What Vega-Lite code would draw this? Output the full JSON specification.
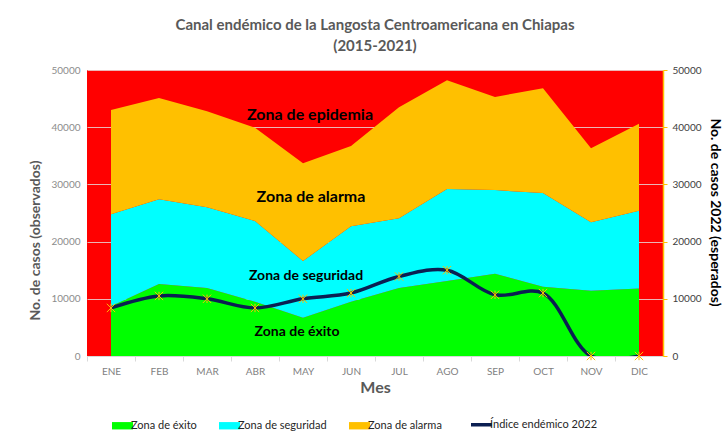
{
  "$schema": "https://vega.github.io/schema/vega-lite/v6.json",
  "width": 576,
  "height": 286,
  "autosize": {"type": "none"},
  "padding": {"left": 87, "top": 70, "right": 65, "bottom": 83},
  "background": "white",
  "config": {
    "font": "Lato",
    "view": {"fill": "#FF0000", "stroke": null},
    "axis": {"labelFont": "Lato", "titleFont": "Lato"}
  },
  "title": {
    "text": ["Canal endémico de la Langosta Centroamericana en Chiapas", "(2015-2021)"],
    "font": "Lato",
    "fontSize": 15,
    "fontWeight": "bold",
    "color": "#595959",
    "anchor": "middle",
    "offset": 11,
    "lineHeight": 21
  },
  "data": {
    "values": [
      {"mes": "ENE", "exito": 8700, "seguridad": 24800, "alarma": 43000, "indice": 8400},
      {"mes": "FEB", "exito": 12600, "seguridad": 27400, "alarma": 45100, "indice": 10500},
      {"mes": "MAR", "exito": 11900, "seguridad": 26000, "alarma": 42800, "indice": 10000},
      {"mes": "ABR", "exito": 9500, "seguridad": 23600, "alarma": 39900, "indice": 8400},
      {"mes": "MAY", "exito": 6700, "seguridad": 16600, "alarma": 33700, "indice": 10000},
      {"mes": "JUN", "exito": 9500, "seguridad": 22700, "alarma": 36700, "indice": 11000},
      {"mes": "JUL", "exito": 11900, "seguridad": 24100, "alarma": 43500, "indice": 13900},
      {"mes": "AGO", "exito": 13100, "seguridad": 29200, "alarma": 48200, "indice": 15000},
      {"mes": "SEP", "exito": 14400, "seguridad": 29000, "alarma": 45300, "indice": 10700},
      {"mes": "OCT", "exito": 12100, "seguridad": 28500, "alarma": 46800, "indice": 11000},
      {"mes": "NOV", "exito": 11400, "seguridad": 23400, "alarma": 36300, "indice": 0},
      {"mes": "DIC", "exito": 11800, "seguridad": 25400, "alarma": 40600, "indice": 0}
    ]
  },
  "encoding": {
    "x": {
      "field": "mes",
      "type": "ordinal",
      "sort": ["ENE", "FEB", "MAR", "ABR", "MAY", "JUN", "JUL", "AGO", "SEP", "OCT", "NOV", "DIC"],
      "scale": {"type": "point", "padding": 0.5},
      "axis": {
        "title": "Mes",
        "titleFontSize": 16,
        "titleFontWeight": "bold",
        "titleColor": "#595959",
        "titlePadding": 3,
        "labelAngle": 0,
        "labelFontSize": 10,
        "labelColor": "#7F7F7F",
        "labelPadding": 5,
        "tickOffset": -24,
        "labelOffset": 24,
        "tickColor": "#D9D9D9",
        "tickSize": 5,
        "domainColor": "#D9D9D9",
        "grid": false
      }
    }
  },
  "layer": [
    {
      "layer": [
        {
          "mark": {"type": "area", "opacity": 1},
          "encoding": {
            "y": {
              "field": "exito",
              "type": "quantitative",
              "scale": {"domain": [0, 50000], "nice": false},
              "axis": {
                "title": "No. de casos (observados)",
                "titleFontSize": 14,
                "titleFontWeight": "bold",
                "titleColor": "#595959",
                "titlePadding": 8,
                "titleY": 170,
                "format": "d",
                "values": [0, 5000, 10000, 15000, 20000, 25000, 30000, 35000, 40000, 45000, 50000],
                "labelFontSize": 10,
                "labelColor": "#8C8C8C",
                "labelPadding": 7,
                "ticks": false,
                "domain": false,
                "grid": true,
                "gridColor": "#EBB5B5",
                "gridWidth": 1
              }
            },
            "y2": {"datum": 0},
            "color": {
              "datum": "Zona de éxito",
              "type": "nominal",
              "scale": {
                "domain": ["Zona de éxito", "Zona de seguridad", "Zona de alarma", "Índice endémico 2022"],
                "range": ["#00FF00", "#00FFFF", "#FFC000", "#0B1F52"]
              },
              "legend": {
                "title": null,
                "orient": "none",
                "legendX": 30,
                "legendY": 349,
                "direction": "horizontal",
                "columns": 4,
                "columnPadding": 22,
                "symbolSize": 441,
                "symbolType": "M-1,-0.35H1V0.35H-1Z",
                "symbolOpacity": 1,
                "labelFont": "Lato",
                "labelFontSize": 11,
                "labelColor": "#262626",
                "labelOffset": 3,
                "encode": {
                  "symbols": {
                    "update": {
                      "shape": {"signal": "datum.value === 'Índice endémico 2022' ? 'stroke' : 'M-1,-0.35H1V0.35H-1Z'"},
                      "strokeWidth": {"signal": "datum.value === 'Índice endémico 2022' ? 3.5 : 0"},
                      "stroke": {"signal": "datum.value === 'Índice endémico 2022' ? '#0B1F52' : 'transparent'"}
                    }
                  }
                }
              }
            }
          }
        },
        {
          "mark": {"type": "area", "opacity": 1},
          "encoding": {
            "y": {"field": "seguridad", "type": "quantitative"},
            "y2": {"field": "exito"},
            "color": {"datum": "Zona de seguridad", "type": "nominal"}
          }
        },
        {
          "mark": {"type": "area", "opacity": 1},
          "encoding": {
            "y": {"field": "alarma", "type": "quantitative"},
            "y2": {"field": "seguridad"},
            "color": {"datum": "Zona de alarma", "type": "nominal"}
          }
        },
        {
          "data": {"values": [{}]},
          "mark": {"type": "text", "fontSize": 16, "fontWeight": "bold", "color": "#000000", "dx": 7},
          "encoding": {
            "x": {"datum": "MAY"},
            "y": {"datum": 42100, "type": "quantitative"},
            "text": {"value": "Zona de epidemia"}
          }
        },
        {
          "data": {"values": [{}]},
          "mark": {"type": "text", "fontSize": 16, "fontWeight": "bold", "color": "#000000", "dx": 8},
          "encoding": {
            "x": {"datum": "MAY"},
            "y": {"datum": 27800, "type": "quantitative"},
            "text": {"value": "Zona de alarma"}
          }
        },
        {
          "data": {"values": [{}]},
          "mark": {"type": "text", "fontSize": 14, "fontWeight": "bold", "color": "#000000", "dx": 3},
          "encoding": {
            "x": {"datum": "MAY"},
            "y": {"datum": 14000, "type": "quantitative"},
            "text": {"value": "Zona de seguridad"}
          }
        },
        {
          "data": {"values": [{}]},
          "mark": {"type": "text", "fontSize": 14, "fontWeight": "bold", "color": "#000000", "dx": -6},
          "encoding": {
            "x": {"datum": "MAY"},
            "y": {"datum": 4200, "type": "quantitative"},
            "text": {"value": "Zona de éxito"}
          }
        }
      ]
    },
    {
      "layer": [
        {
          "mark": {"type": "line", "interpolate": "catmull-rom", "strokeWidth": 3.5, "clip": true},
          "encoding": {
            "y": {
              "field": "indice",
              "type": "quantitative",
              "scale": {"domain": [0, 50000], "nice": false},
              "axis": {
                "orient": "right",
                "title": "No. de casos 2022 (esperados)",
                "titleFontSize": 14,
                "titleFontWeight": "bold",
                "titleColor": "#000000",
                "titlePadding": 6,
                "titleY": 142,
                "format": "d",
                "values": [0, 5000, 10000, 15000, 20000, 25000, 30000, 35000, 40000, 45000, 50000],
                "labelFontSize": 10,
                "labelColor": "#404040",
                "labelPadding": 5,
                "tickColor": "#FFC000",
                "tickSize": 4,
                "domainColor": "#FFC000",
                "domainWidth": 1.5,
                "grid": false
              }
            },
            "color": {"datum": "Índice endémico 2022", "type": "nominal"}
          }
        },
        {
          "mark": {"type": "point", "shape": "M-1,-1L1,1M-1,1L1,-1M0,-1L0,1", "size": 70, "filled": false, "color": "#FFC000", "strokeWidth": 1, "opacity": 1},
          "encoding": {
            "y": {"field": "indice", "type": "quantitative"}
          }
        }
      ]
    }
  ],
  "resolve": {"scale": {"y": "independent"}}
}
